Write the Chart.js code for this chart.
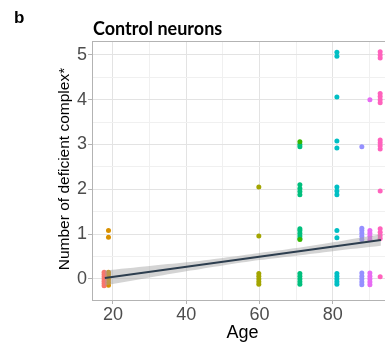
<!DOCTYPE html>
<html>
<head>
<meta charset="utf-8">
<script src="https://cdn.jsdelivr.net/npm/chart.js@4/dist/chart.umd.min.js"></script>
<style>
  html, body { margin: 0; padding: 0; background: #fff; overflow: hidden; width: 385px; height: 342px; }
  #wrap { position: relative; width: 385px; height: 342px; overflow: hidden; }
  #c { position: absolute; left: 0; top: 0; }
  .lbl { position: absolute; white-space: nowrap; color: #000; }
  #panel { left: 14px; top: 9px; font: bold 17px "Liberation Sans", Arial, sans-serif; line-height: 17px; }
  #title { left: 93px; top: 19px; font: bold 18px Lato, "Open Sans", sans-serif; line-height: 18px; }
  #ytitle { width: 260px; height: 20px; left: -66px; top: 159px; text-align: center;
            font: 15.5px "Liberation Sans", Arial, sans-serif; line-height: 20px; transform: rotate(-90deg); }
</style>
</head>
<body>
<div id="wrap">
  <canvas id="c" width="396" height="342"></canvas>
  <div class="lbl" id="panel">b</div>
  <div class="lbl" id="title">Control neurons</div>
  <div class="lbl" id="ytitle">Number of deficient complex*</div>
</div>
<script>
// ---- data ----
const donorAges   = [17.6, 18.8, 59.8, 71.0, 71.0, 81.1, 87.9, 90.1, 92.9];
const donorColors = ['#F8766D', '#D89000', '#A3A500', '#39B600', '#00BF7D', '#00BFC4', '#9590FF', '#E76BF3', '#FF62BC'];
const donor1 = [-0.15, -0.1, -0.05, 0, 0.05, 0.1, 0.15];
const donor2 = [-0.14, -0.08, -0.02, 0.04, 0.1, 0.15, 0.93, 1.08];
const donor3 = [-0.12, -0.06, 0, 0.06, 0.12, 0.96, 2.05];
const donor4 = [0.88, 3.06];
const donor5 = [-0.12, -0.06, 0, 0.06, 0.12, 0.9, 0.96, 1.02, 1.08, 1.12, 1.88, 1.95, 2.02, 2.1, 2.95, 3.0];
const donor6 = [-0.12, -0.06, 0, 0.06, 0.12, 0.92, 1.08, 1.88, 1.96, 2.05, 2.92, 3.08, 4.06, 4.97, 5.06];
const donor7 = [-0.13, -0.07, 0, 0.06, 0.13, 0.88, 0.95, 1.02, 1.08, 1.13, 2.95];
const donor8 = [-0.13, -0.07, 0, 0.06, 0.13, 0.88, 0.95, 1.02, 1.08, 4.0];
const donor9 = [0.05, 0.9, 0.97, 1.04, 1.12, 1.96, 2.9, 2.97, 3.04, 3.1, 3.93, 4.0, 4.07, 4.14, 4.93, 5.0, 5.07];
const donorValues = [donor1, donor2, donor3, donor4, donor5, donor6, donor7, donor8, donor9];

const fitAges   = [17.8, 93.1];
const fitValues = [0.02, 0.87];
const bandAges  = [17.8, 30, 40, 50, 60, 70, 80, 93.1];
const bandUpper = [0.19, 0.29, 0.37, 0.47, 0.58, 0.69, 0.82, 1.00];
const bandLower = [-0.15, 0.03, 0.17, 0.30, 0.42, 0.52, 0.62, 0.74];

const xTickValues = [20, 30, 40, 50, 60, 70, 80, 90];
const xTickLabels = ['20', '', '40', '', '60', '', '80', ''];
const yTickValues = [0, 0.5, 1, 1.5, 2, 2.5, 3, 3.5, 4, 4.5, 5];
const yTickLabels = ['0', '', '1', '', '2', '', '3', '', '4', '', '5'];

// ---- build datasets ----
const datasets = [];
datasets.push({
  type: 'line', label: 'upper', data: bandAges.map((a, i) => ({ x: a, y: bandUpper[i] })),
  borderWidth: 0, borderColor: 'rgba(0,0,0,0)', pointRadius: 0, fill: '+1',
  backgroundColor: 'rgba(160,160,160,0.45)', order: 1, tension: 0.3
});
datasets.push({
  type: 'line', label: 'lower', data: bandAges.map((a, i) => ({ x: a, y: bandLower[i] })),
  borderWidth: 0, borderColor: 'rgba(0,0,0,0)', pointRadius: 0, fill: false, order: 1, tension: 0.3
});
datasets.push({
  type: 'line', label: 'fit', data: fitAges.map((a, i) => ({ x: a, y: fitValues[i] })),
  borderWidth: 2, borderColor: '#2D3E4F', pointRadius: 0, fill: false, order: 0
});
donorValues.forEach((vals, d) => {
  datasets.push({
    type: 'scatter', label: 'donor' + (d + 1),
    data: vals.map(v => ({ x: donorAges[d], y: v })),
    backgroundColor: donorColors[d], borderWidth: 0, pointRadius: 2.5, pointHoverRadius: 2.5, order: 2
  });
});

const GRID_MAJOR = '#E3E3E3', GRID_MINOR = '#F0F0F0', BORDER = '#B3B3B3';

const topBorder = {
  id: 'topBorder',
  afterDraw(chart) {
    const { ctx, chartArea } = chart;
    ctx.save();
    ctx.strokeStyle = BORDER; ctx.lineWidth = 1;
    ctx.beginPath();
    ctx.moveTo(chartArea.left, chartArea.top + 0.5);
    ctx.lineTo(chartArea.right, chartArea.top + 0.5);
    ctx.moveTo(chartArea.right - 0.5, chartArea.top);
    ctx.lineTo(chartArea.right - 0.5, chartArea.bottom);
    ctx.stroke();
    ctx.restore();
  }
};

new Chart(document.getElementById('c'), {
  type: 'scatter',
  data: { datasets },
  options: {
    responsive: false, animation: false, devicePixelRatio: 1,
    layout: { padding: { top: 41, right: 3, left: 0, bottom: 0 } },
    plugins: { legend: { display: false }, tooltip: { enabled: false }, title: { display: false } },
    scales: {
      x: {
        type: 'linear', min: 14.3, max: 96.4,
        afterBuildTicks: s => { s.ticks = xTickValues.map(v => ({ value: v })); },
        afterFit: s => { s.height = 42; },
        ticks: {
          autoSkip: false, maxRotation: 0, padding: 0, color: '#4D4D4D',
          font: { family: '"Liberation Sans", Arial, sans-serif', size: 18 },
          callback: (v, i) => xTickLabels[i]
        },
        grid: {
          color: c => (c.tick && c.tick.value % 20 === 0) ? GRID_MAJOR : GRID_MINOR,
          tickColor: c => (c.tick && c.tick.value % 20 === 0) ? BORDER : 'rgba(0,0,0,0)',
          tickLength: 4, lineWidth: 1
        },
        border: { display: true, color: BORDER, width: 1 },
        title: {
          display: true, text: 'Age', color: '#000', padding: { top: 0, bottom: -2 },
          font: { family: '"Liberation Sans", Arial, sans-serif', size: 18 }
        }
      },
      y: {
        type: 'linear', min: -0.47, max: 5.31,
        afterBuildTicks: s => { s.ticks = yTickValues.map(v => ({ value: v })); },
        afterFit: s => { s.width = 92; },
        ticks: {
          autoSkip: false, padding: 1, color: '#4D4D4D',
          font: { family: '"Liberation Sans", Arial, sans-serif', size: 18 },
          callback: (v, i) => yTickLabels[i]
        },
        grid: {
          color: c => (c.tick && Number.isInteger(c.tick.value)) ? GRID_MAJOR : GRID_MINOR,
          tickColor: c => (c.tick && Number.isInteger(c.tick.value)) ? BORDER : 'rgba(0,0,0,0)',
          tickLength: 4, lineWidth: 1
        },
        border: { display: true, color: BORDER, width: 1 },
        title: { display: false }
      }
    }
  },
  plugins: [topBorder]
});
</script>
</body>
</html>
